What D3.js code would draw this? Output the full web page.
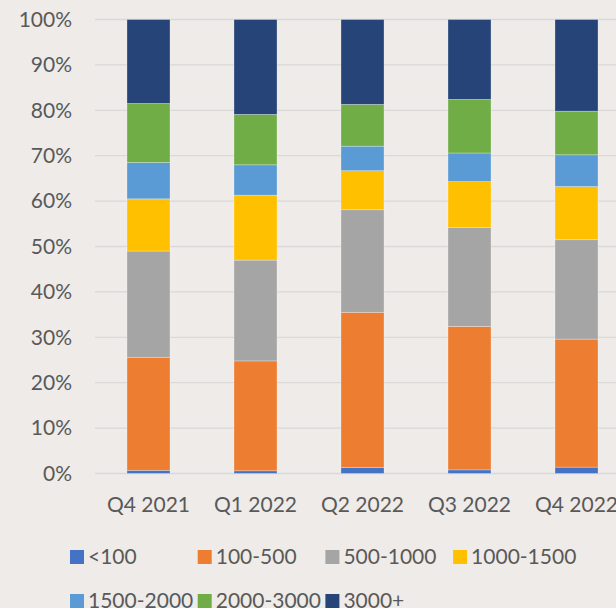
<!DOCTYPE html>
<html lang="en"><head>
<meta charset="utf-8">
<title>Stacked share</title>
<script src="https://cdn.jsdelivr.net/npm/d3@7"></script>
<style>
  html, body { margin: 0; padding: 0; background: #eeebe9; overflow: hidden; }
  text { font-family: Lato, "Open Sans", sans-serif; fill: #595959; }
</style>
</head>
<body>
<script type="text/javascript">

var width = 616;
var height = 608;

var quarters = ["Q4 2021", "Q1 2022", "Q2 2022", "Q3 2022", "Q4 2022"];
var bands = ["<100", "100-500", "500-1000", "1000-1500", "1500-2000", "2000-3000", "3000+"];

// share of each band per quarter (%)
var lt100     = [0.7, 0.6, 1.3, 0.8, 1.4];
var b100_500  = [24.9, 24.2, 34.2, 31.6, 28.2];
var b500_1000 = [23.4, 22.2, 22.6, 21.8, 21.9];
var b1000_1500 = [11.5, 14.3, 8.6, 10.1, 11.7];
var b1500_2000 = [8.0, 6.7, 5.4, 6.3, 7.0];
var b2000_3000 = [13.0, 11.1, 9.2, 11.8, 9.6];
var b3000plus = [18.5, 20.9, 18.7, 17.6, 20.2];

var yTicks = [0, 10, 20, 30, 40, 50, 60, 70, 80, 90, 100];

var colors = ["#4472c4", "#ed7d31", "#a5a5a5", "#ffc000", "#5b9bd5", "#70ad47", "#264478"];

var series = [lt100, b100_500, b500_1000, b1000_1500, b1500_2000, b2000_3000, b3000plus];

// build rows for d3.stack
var rows = quarters.map(function(q, i) {
    var r = {quarter: q};
    var total = 0;
    series.forEach(function(s) { total += s[i]; });
    bands.forEach(function(b, j) { r[b] = series[j][i] / total; });
    return r;
});

var stacked = d3.stack().keys(bands)(rows);

var svg = d3.select("body").append("svg")
    .attr("width", width)
    .attr("height", height);

var x = d3.scaleBand()
    .domain(quarters)
    .range([95, 630])
    .paddingInner(0.598)
    .paddingOuter(0.299);

var y = d3.scaleLinear()
    .domain([0, 1])
    .range([473.5, 19.5]);

// gridlines
svg.append("g")
    .selectAll("line")
    .data(yTicks)
    .enter()
    .append("line")
    .attr("x1", 95)
    .attr("x2", width)
    .attr("y1", function(d) { return y(d / 100); })
    .attr("y2", function(d) { return y(d / 100); })
    .attr("stroke", "#d9d9d9")
    .attr("stroke-width", 1.3);

// y axis labels
var yAxis = d3.axisLeft(y)
    .tickValues(yTicks.map(function(d) { return d / 100; }))
    .tickFormat(d3.format(".0%"))
    .tickSize(0)
    .tickPadding(0);

svg.append("g")
    .attr("transform", "translate(72,0)")
    .call(yAxis)
    .call(function(g) { g.select(".domain").remove(); })
    .selectAll("text")
    .attr("font-size", 21)
    .attr("fill", "#595959")
    .style("font-family", "Lato, sans-serif");

// bars
svg.append("g")
    .selectAll("g")
    .data(stacked)
    .enter()
    .append("g")
    .attr("fill", function(d, i) { return colors[i]; })
    .selectAll("rect")
    .data(function(d) { return d; })
    .enter()
    .append("rect")
    .attr("x", function(d) { return x(d.data.quarter); })
    .attr("width", x.bandwidth())
    .attr("y", function(d) { return y(d[1]); })
    .attr("height", function(d) { return y(d[0]) - y(d[1]); })
    .attr("stroke", "rgba(255,255,255,0.35)")
    .attr("stroke-width", 0.8);

// x axis labels
var xAxis = d3.axisBottom(x).tickSize(0).tickPadding(0);
svg.append("g")
    .attr("transform", "translate(0,497)")
    .call(xAxis)
    .call(function(g) { g.select(".domain").remove(); })
    .selectAll("text")
    .attr("font-size", 21)
    .attr("fill", "#595959")
    .style("font-family", "Lato, sans-serif");

// legend
var legend = svg.append("g");
var item = legend.selectAll("g")
    .data(bands)
    .enter()
    .append("g")
    .attr("transform", function(d, i) {
        var col = i % 4, row = Math.floor(i / 4);
        return "translate(" + (70 + col * 127.7) + "," + (550 + row * 44) + ")";
    });

item.append("rect")
    .attr("width", 14)
    .attr("height", 14)
    .attr("fill", function(d, i) { return colors[i]; });

item.append("text")
    .attr("x", 18)
    .attr("y", 7)
    .attr("dy", "0.35em")
    .attr("font-size", 21)
    .text(function(d) { return d; });

</script>
</body>
</html>
